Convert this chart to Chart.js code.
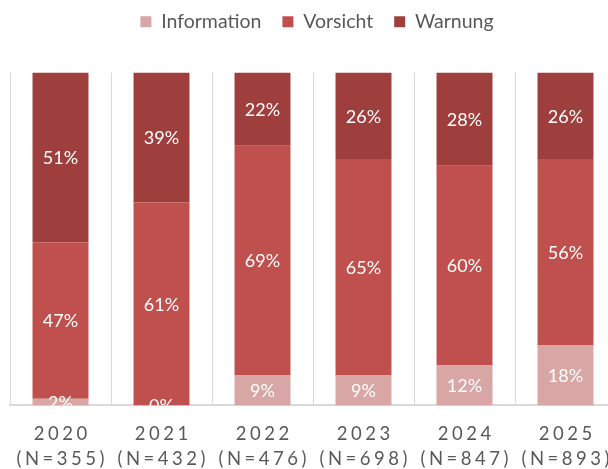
<!DOCTYPE html>
<html>
<head>
<meta charset="utf-8">
<script src="https://cdn.jsdelivr.net/npm/chart.js@4"></script>
<style>
  html, body { margin: 0; padding: 0; background: #fff; overflow: hidden; }
  #wrap { width: 608px; height: 469px; overflow: hidden; }
</style>
</head>
<body>
<div id="wrap"><canvas id="riskChart" width="626" height="488"></canvas></div>
<script>
const years = ['2020', '2021', '2022', '2023', '2024', '2025'];
const counts = [355, 432, 476, 698, 847, 893];
const information = [2, 0, 9, 9, 12, 18];
const vorsicht = [47, 61, 69, 65, 60, 56];
const warnung = [51, 39, 22, 26, 28, 26];

const labels = years.map((y, i) => [y, '(N=' + counts[i] + ')']);

const fontFamily = 'Lato, "Open Sans", sans-serif';

// percent labels inside the segments, clipped to the plot area like the original
const segmentLabels = {
  id: 'segmentLabels',
  afterDatasetsDraw(chart) {
    const ctx = chart.ctx;
    const area = chart.chartArea;
    ctx.save();
    ctx.beginPath();
    ctx.rect(area.left, area.top, area.right - area.left, area.bottom - area.top);
    ctx.clip();
    ctx.font = '18px ' + fontFamily;
    ctx.fillStyle = '#ffffff';
    ctx.textAlign = 'center';
    ctx.textBaseline = 'middle';
    chart.data.datasets.forEach((ds, di) => {
      const meta = chart.getDatasetMeta(di);
      meta.data.forEach((bar, i) => {
        const mid = (bar.y + bar.base) / 2;
        ctx.fillText(ds.data[i] + '%', bar.x, mid + 1);
      });
    });
    ctx.restore();
  }
};

// spaced-out category labels, extra room under the legend
const layoutTweaks = {
  id: 'layoutTweaks',
  beforeLayout(chart) {
    const legend = chart.legend;
    if (legend && !legend._patched) {
      const fit = legend.fit;
      legend.fit = function () {
        fit.call(this);
        this.height += 22;
      };
      const draw = legend.draw;
      legend.draw = function () {
        this.ctx.save();
        this.ctx.translate(4, -9);
        draw.call(this);
        this.ctx.restore();
      };
      legend._patched = true;
    }
  },
  afterLayout(chart) {
    const scale = chart.scales.x;
    if (scale._spaced) return;
    const orig = scale.drawLabels;
    scale.drawLabels = function (area) {
      const ctx = this.ctx;
      ctx.save();
      ctx.letterSpacing = '3.5px';
      ctx.translate(1.75, 0);
      orig.call(this, area);
      ctx.restore();
    };
    scale._spaced = true;
  }
};

const ctx = document.getElementById('riskChart').getContext('2d');
const chart = new Chart(ctx, {
  type: 'bar',
  data: {
    labels: labels,
    datasets: [
      { label: 'Information', data: information, backgroundColor: '#D9A6A6' },
      { label: 'Vorsicht', data: vorsicht, backgroundColor: '#C0504D' },
      { label: 'Warnung', data: warnung, backgroundColor: '#9E3F3D' }
    ]
  },
  options: {
    responsive: false,
    animation: false,
    layout: { padding: { left: 10, right: 10, top: 0, bottom: 0 } },
    datasets: {
      bar: { categoryPercentage: 1, barPercentage: 0.554, borderWidth: 0 }
    },
    plugins: {
      legend: {
        position: 'top',
        labels: {
          boxWidth: 11,
          boxHeight: 11,
          padding: 21,
          color: '#595959',
          font: { family: fontFamily, size: 19.5 }
        }
      },
      tooltip: { enabled: false }
    },
    scales: {
      x: {
        stacked: true,
        grid: { display: true, color: '#D9D9D9', lineWidth: 1, drawTicks: false, offset: true },
        border: { display: true, color: '#D9D9D9', width: 2 },
        ticks: {
          color: '#595959',
          padding: 15.75,
          maxRotation: 0,
          autoSkip: false,
          font: { family: fontFamily, size: 18.5, lineHeight: 1.38 }
        }
      },
      y: {
        stacked: true,
        display: false,
        min: 0,
        max: 100
      }
    }
  },
  plugins: [segmentLabels, layoutTweaks]
});
</script>
</body>
</html>
